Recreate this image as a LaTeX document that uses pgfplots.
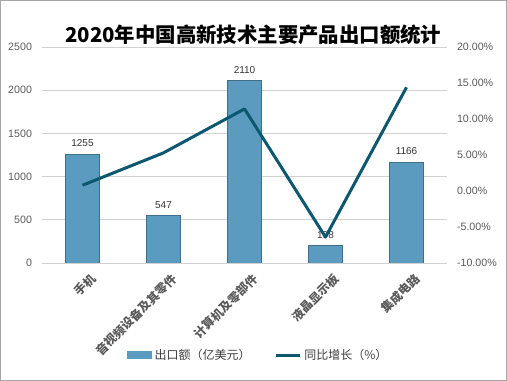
\documentclass[border=0pt]{standalone}
\usepackage{pgfplots}
\pgfplotsset{compat=1.18}
\usepackage{fontspec}
\setmainfont{Liberation Sans}
\newfontfamily\cjk{Noto Sans CJK SC}
\definecolor{barc}{HTML}{5B9BBF}
\definecolor{bard}{HTML}{3D6E8A}
\definecolor{linec}{HTML}{0D5870}
\definecolor{tickc}{HTML}{595959}
\begin{document}
\begin{tikzpicture}
\draw[gray!70, line width=0.8pt] (0.4pt,0.4pt) rectangle (379.85pt,285.35pt);
\node[font=\cjk\bfseries\fontsize{15.3}{15.3}\selectfont, text=black] at (190pt,260pt) {2020年中国高新技术主要产品出口额统计};
\begin{axis}[at={(31.5pt,88.5pt)}, anchor=south west, scale only axis,
  width=303.75pt, height=162pt,
  xmin=-0.5, xmax=4.5, ymin=0, ymax=2500,
  ytick={0,500,...,2500}, xtick={0,...,4},
  xticklabels={手机,音视频设备及其零件,计算机及零部件,液晶显示板,集成电路},
  xticklabel style={rotate=45, anchor=east, font=\cjk\bfseries\fontsize{9}{9}\selectfont, text=tickc, yshift=-13pt, xshift=2pt},
  yticklabel style={font=\fontsize{8}{8}\selectfont, text=tickc, xshift=-4pt},
  /pgf/number format/assume math mode=true,
  /pgf/number format/1000 sep={},
  axis line style={draw=none}, major tick length=0pt,
  ymajorgrids, grid style={color=gray!35, line width=0.6pt},
  legend style={at={(0.535,-0.426)}, anchor=center, draw=none, legend columns=2,
     font=\cjk\fontsize{9}{9}\selectfont, text=black!75, /tikz/every even column/.append style={column sep=16pt}},
  ]
\addplot[ybar, bar width=25.5pt, fill=barc, draw=bard, line width=0.6pt,
  nodes near coords, nodes near coords style={font=\fontsize{7.5}{7.5}\selectfont, text=black!80, yshift=2pt},
  legend image code/.code={\fill[barc] (0pt,-2.5pt) rectangle (18pt,2.5pt);}]
  coordinates {(0,1255) (1,547) (2,2110) (3,198) (4,1166)};
\addlegendentry{出口额（亿美元）}
\addlegendimage{line width=2.25pt, color=linec, legend image code/.code={\draw[line width=2.25pt, color=linec] (0pt,0pt) -- (18pt,0pt);}}
\addlegendentry{同比增长（\%）}
\end{axis}
\begin{axis}[at={(31.5pt,88.5pt)}, anchor=south west, scale only axis,
  width=303.75pt, height=162pt,
  xmin=-0.5, xmax=4.5, ymin=-0.10, ymax=0.20,
  axis y line*=right, axis x line=none,
  ytick={-0.10,-0.05,0,0.05,0.10,0.15,0.20},
  yticklabels={-10.00\%,-5.00\%,0.00\%,5.00\%,10.00\%,15.00\%,20.00\%},
  yticklabel style={font=\fontsize{8}{8}\selectfont, text=tickc, anchor=west, xshift=4pt},
  axis line style={draw=none}, major tick length=0pt,
  ]
\addplot[color=linec, line width=2.25pt, line join=round] coordinates {(0,0.008) (1,0.053) (2,0.114) (3,-0.064) (4,0.144)};
\end{axis}
\end{tikzpicture}
\end{document}
